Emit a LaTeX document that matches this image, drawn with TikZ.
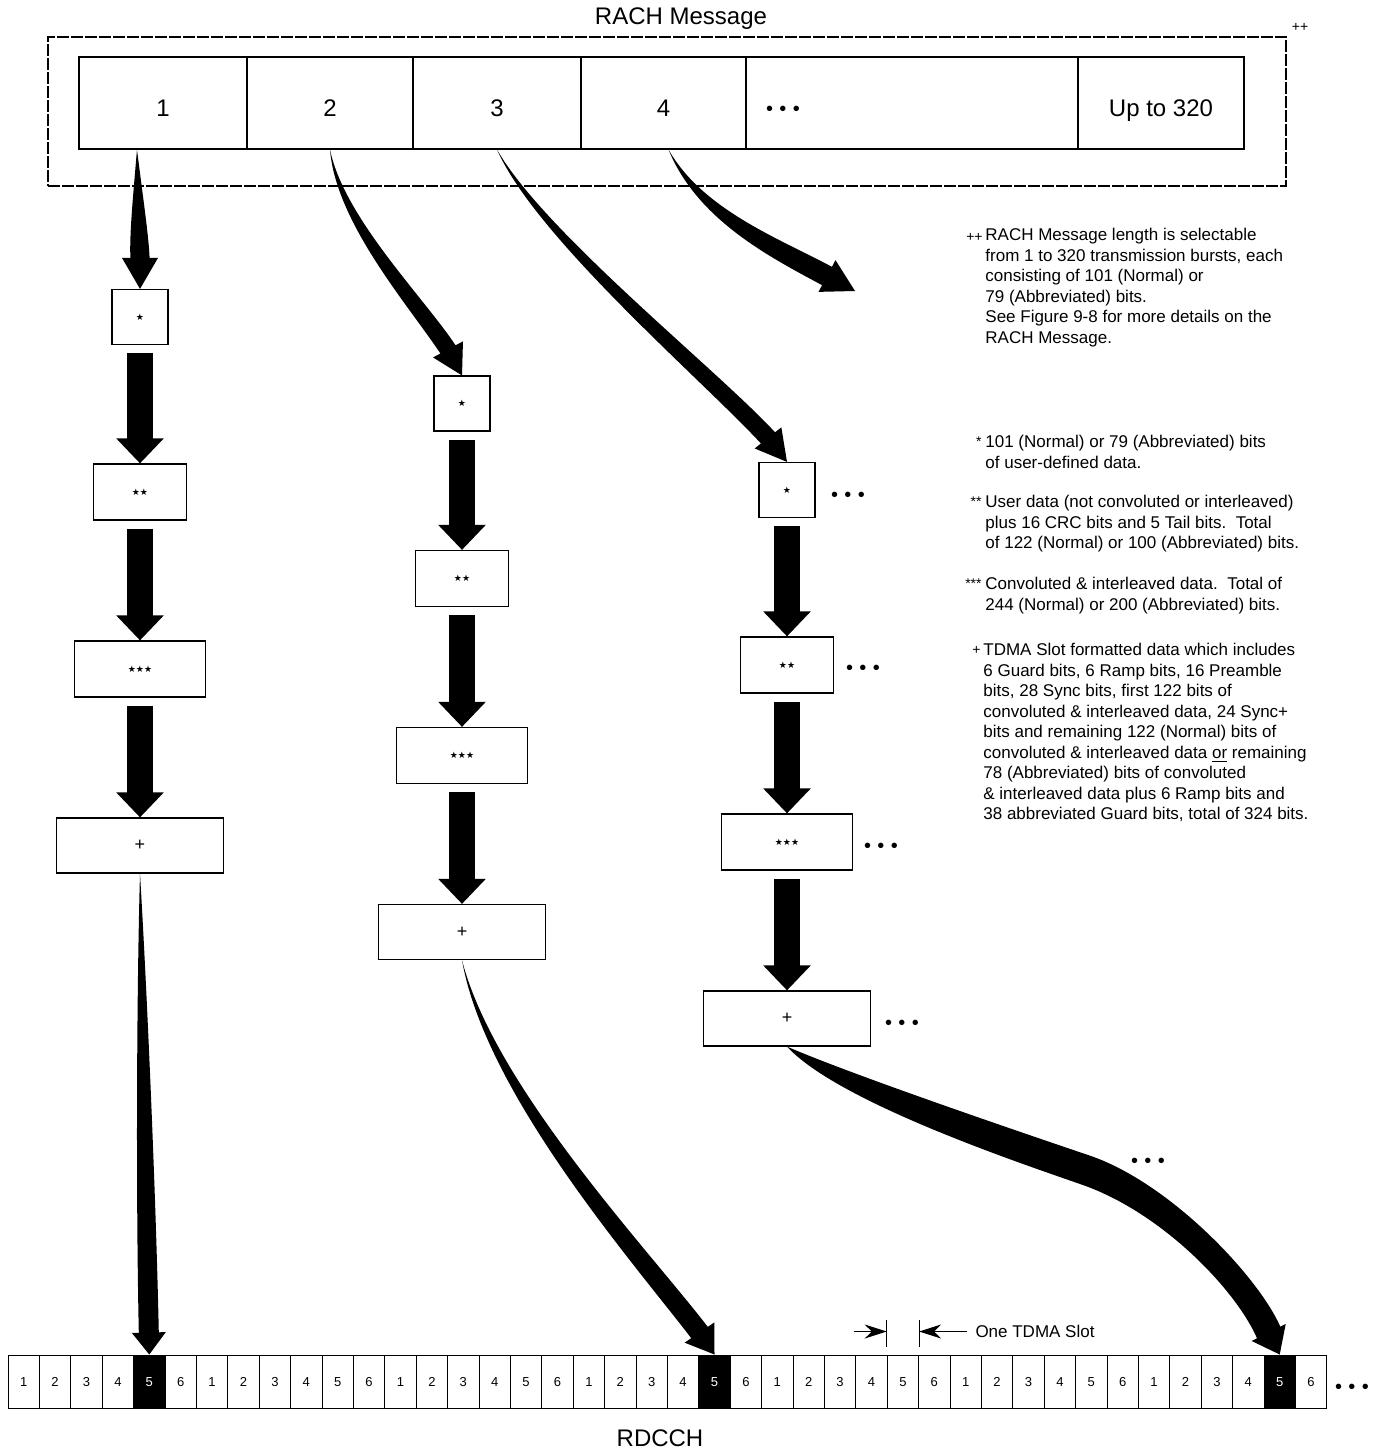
\documentclass[tikz,border=0pt]{standalone}
\usepackage{fontspec}
\setmainfont{Liberation Sans}
\newfontfamily\djv{DejaVu Sans}
\usetikzlibrary{arrows.meta,calc}
% tapered curved arrow: #1 start, #2 ctrl1, #3 ctrl2, #4 tip, #5 offset tip->head base, #6 shaft half width, #7 head half width
\newcommand\tapArrow[7]{%
  \coordinate (tB) at ($#4+#5$);
  \coordinate (tL) at ($(tB)!#6!90:#4$);
  \coordinate (tR) at ($(tB)!#6!-90:#4$);
  \coordinate (hL) at ($(tB)!#7!90:#4$);
  \coordinate (hR) at ($(tB)!#7!-90:#4$);
  \fill #1 .. controls ($#2+0.55*(tL)-0.55*(tB)$) and ($#3+(tL)-(tB)$) .. (tL) -- (hL) -- #4 -- (hR) -- (tR)
     .. controls ($#3+(tR)-(tB)$) and ($#2+0.55*(tR)-0.55*(tB)$) .. #1 -- cycle;
}
\newcommand\tdots{\textbullet\hspace{3.2pt}\textbullet\hspace{3.2pt}\textbullet}
\newcommand\stt[1]{{\fontsize{4.5}{5}\djv #1}}
\tikzset{
  pbox/.style={draw, line width=0.6pt, inner sep=0, fill=white},
  sa/.style={pbox, minimum width=28pt, minimum height=27.5pt},
  sb/.style={pbox, minimum width=46.5pt, minimum height=28pt},
  sc/.style={pbox, minimum width=65.5pt, minimum height=28pt},
  sd/.style={pbox, minimum width=83.5pt, minimum height=27.5pt, font=\fontsize{9}{10}\selectfont},
  cellbox/.style={draw, line width=0.6pt, minimum height=46pt, inner sep=0, text height=14pt, text depth=0.4pt, font=\fontsize{12}{14}\selectfont},
  slot/.style={draw, line width=0.5pt, minimum width=15.7pt, minimum height=26.5pt, inner sep=0, text height=4.7pt, text depth=0pt, font=\fontsize{6.5}{7}\selectfont},
  blk/.style={line width=13pt, -{Triangle[width=23pt,length=12.5pt]}, shorten <=4pt},
  note/.style={align=left, inner sep=0, anchor=north west, font=\fontsize{8.5}{10.25}\selectfont},
  pfx/.style={inner sep=0, anchor=base east, font=\fontsize{7}{8}\selectfont},
  dts/.style={inner sep=0, font=\fontsize{10}{11}\selectfont},
  small arrow/.style={line width=0.5pt, -{Stealth[length=11pt,width=7pt]}},
}
\begin{document}
\begin{tikzpicture}[x=0.5pt,y=-0.5pt, font=\fontsize{12}{14}\selectfont]
\fill[white] (0,0) rectangle (1386,1451);
\useasboundingbox (0,0) rectangle (1386,1451);

% ---- RACH message ----
\node[inner sep=0] (title) at (681,19) {RACH Message};
\node[inner sep=0, font=\fontsize{7}{8}\selectfont] (pp) at (1300,27) {++};
\node[draw, line width=0.6pt, dash pattern=on 6pt off 1pt, minimum width=619pt, minimum height=74.5pt, inner sep=0] (msg) at (667,111.5) {};
\node[cellbox, minimum width=84pt] (c1) at (163,103) {1};
\node[cellbox, minimum width=83pt] (c2) at (330,103) {2};
\node[cellbox, minimum width=84pt] (c3) at (497,103) {3};
\node[cellbox, minimum width=82.5pt] (c4) at (663.5,103) {4};
\node[cellbox, minimum width=166pt] (c5) at (912,103) {};
\node[cellbox, minimum width=83pt] (c6) at (1161,103) {Up to 320};
\node[dts] (c5d) at (783,111) {\tdots};

% ---- column 1 ----
\node[sa] (b11) at (140,317) {\stt{★}};
\node[sb] (b12) at (140,492) {\stt{★★}};
\node[sc] (b13) at (140,669) {\stt{★★★}};
\node[sd] (b14) at (140,845.5) {+};
% ---- column 2 ----
\node[sa] (b21) at (462,403.5) {\stt{★}};
\node[sb] (b22) at (462,578.5) {\stt{★★}};
\node[sc] (b23) at (462,755.5) {\stt{★★★}};
\node[sd] (b24) at (462,932) {+};
% ---- column 3 ----
\node[sa] (b31) at (787,490) {\stt{★}};
\node[sb] (b32) at (787,665) {\stt{★★}};
\node[sc] (b33) at (787,842) {\stt{★★★}};
\node[sd] (b34) at (787,1018.5) {+};
\node[dts] (d31) at (848,497) {\tdots};
\node[dts] (d32) at (863,670) {\tdots};
\node[dts] (d33) at (881,848) {\tdots};
\node[dts] (d34) at (902,1025) {\tdots};

\foreach \c in {1,2,3}{
  \draw[blk] (b\c1) -- (b\c2);
  \draw[blk] (b\c2) -- (b\c3);
  \draw[blk] (b\c3) -- (b\c4);
}

% ---- RDCCH strip ----
\foreach \i in {1,...,42}{
  \pgfmathtruncatemacro\lab{mod(\i-1,6)+1}
  \pgfmathtruncatemacro\isblk{(\i==5)||(\i==23)||(\i==41)}
  \ifnum\isblk=1
    \node[slot, fill=black, text=white] (s\i) at ({8+31.4*(\i-0.5)},1381.5) {\lab};
  \else
    \node[slot] (s\i) at ({8+31.4*(\i-0.5)},1381.5) {\lab};
  \fi
}
\node[dts] (sd) at (1352,1389) {\tdots};
\node[inner sep=0] (rdcch) at (660,1438) {RDCCH};

% one TDMA slot marker
\draw[line width=0.5pt] ($(s29.north west)+(0,-8)$) -- ($(s29.north west)+(0,-35)$);
\draw[line width=0.5pt] ($(s29.north east)+(0,-8)$) -- ($(s29.north east)+(0,-35)$);
\draw[small arrow] ($(s29.north west)+(-33,-23)$) -- ($(s29.north west)+(0,-23)$);
\draw[small arrow] ($(s29.north east)+(48,-23)$) -- ($(s29.north east)+(0,-23)$);
\node[inner sep=0, anchor=west, font=\fontsize{8.5}{10}\selectfont] (slotlbl) at ($(s29.north east)+(56,-23)$) {One TDMA Slot};

% ---- tapered arrows from message cells ----
\coordinate (a4tip) at (855,291);
\tapArrow{($(c1.south)+(-26,0)$)}{(138,200)}{(139,235)}{(b11.north)}{(0,-31)}{4.8pt}{9pt}
\tapArrow{(c2.south)}{(340,220)}{(415,300)}{(b21.north)}{(-14,-26)}{4.3pt}{8.5pt}
\tapArrow{(c3.south)}{(540,235)}{(710,375)}{(b31.north)}{(-19,-24)}{4.5pt}{8.5pt}
\tapArrow{($(c4.south)+(5,0)$)}{(700,215)}{(775,248)}{(a4tip)}{(-28,-15)}{5.2pt}{9pt}

% ---- tapered arrows to RDCCH ----
\tapArrow{(b14.south)}{(142,1000)}{(146,1200)}{(s5.north)}{(-0.5,-22)}{5pt}{8.5pt}
\tapArrow{(b24.south)}{(490,1090)}{(640,1255)}{(s23.north)}{(-15,-22)}{5pt}{9pt}

% S-shaped arrow
\coordinate (sB) at ($(s41.north)+(-11,-22)$);
\coordinate (sR) at ($(sB)!6.5pt!90:(s41.north)$);
\coordinate (sL) at ($(sB)!6.5pt!-90:(s41.north)$);
\coordinate (hR) at ($(sB)!9.5pt!90:(s41.north)$);
\coordinate (hL) at ($(sB)!9.5pt!-90:(s41.north)$);
\fill (b34.south) .. controls (855,1076) and (1032,1136) .. (1091,1156)
  .. controls (1171,1184) and ($(sR)+(-22,-50)$) .. (sR) -- (hR) -- (s41.north) -- (hL) -- (sL)
  .. controls ($(sL)+(-22,-50)$) and (1160,1211) .. (1080,1184)
  .. controls (1020,1163) and (838,1102) .. (b34.south) -- cycle;
\node[dts] (sdots) at (1148,1163) {\tdots};

% ---- notes ----
\node[pfx] (p1) at (983,241) {++};
\node[note] (n1) at (985,228) {RACH Message length is selectable\\from 1 to 320 transmission bursts, each\\consisting of 101 (Normal) or\\79 (Abbreviated) bits.\\See Figure 9-8 for more details on the\\RACH Message.};
\node[pfx] (p2) at (982,446) {*};
\node[note] (n2) at (985,435) {101 (Normal) or 79 (Abbreviated) bits\\of user-defined data.};
\node[pfx] (p3) at (982,506) {**};
\node[note] (n3) at (985,495) {User data (not convoluted or interleaved)\\plus 16 CRC bits and 5 Tail bits.\ \ Total\\of 122 (Normal) or 100 (Abbreviated) bits.};
\node[pfx] (p4) at (982,588) {***};
\node[note] (n4) at (985,577) {Convoluted \& interleaved data.\ \ Total of\\244 (Normal) or 200 (Abbreviated) bits.};
\node[pfx] (p5) at (981,654) {+};
\node[note] (n5) at (983,643) {TDMA Slot formatted data which includes\\6 Guard bits, 6 Ramp bits, 16 Preamble\\bits, 28 Sync bits, first 122 bits of\\convoluted \& interleaved data, 24 Sync+\\bits and remaining 122 (Normal) bits of\\convoluted \& interleaved data \underline{or} remaining\\78 (Abbreviated) bits of convoluted\\\& interleaved data plus 6 Ramp bits and\\38 abbreviated Guard bits, total of 324 bits.};
\end{tikzpicture}
\end{document}
